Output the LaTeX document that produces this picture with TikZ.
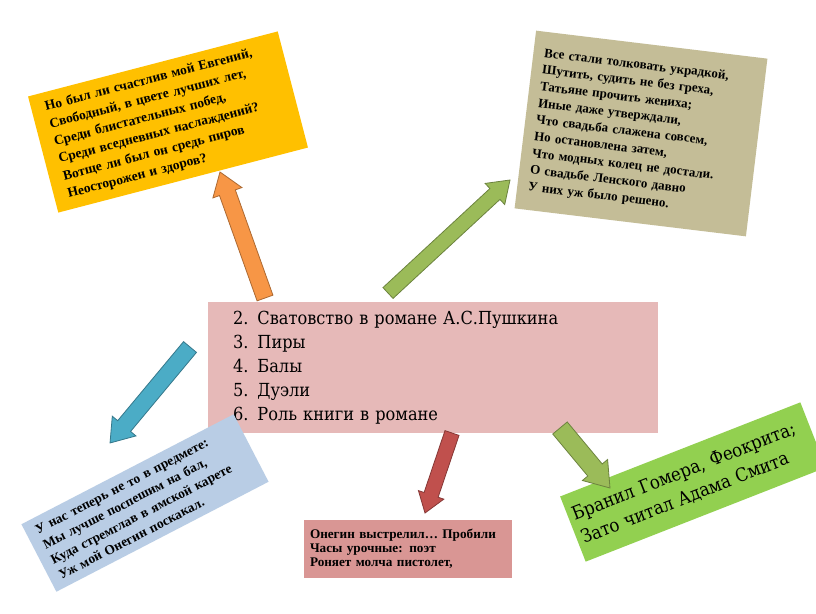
\documentclass[tikz,border=0pt]{standalone}
\usepackage{fontspec}
\setmainfont{Liberation Serif}
\newfontfamily\plainserif{DejaVu Serif Condensed}
\usetikzlibrary{shapes.arrows, calc}

\definecolor{gold}{HTML}{FFC000}
\definecolor{khaki}{HTML}{C4BD97}
\definecolor{rosy}{HTML}{E6B9B8}
\definecolor{skyblue}{HTML}{B9CDE5}
\definecolor{duelred}{HTML}{D99694}
\definecolor{grass}{HTML}{92D050}
\definecolor{arrorange}{HTML}{F79646}
\definecolor{arrgreen}{HTML}{9BBB59}
\definecolor{arrblue}{HTML}{4BACC6}
\definecolor{arrred}{HTML}{C0504D}

\begin{document}
\begin{tikzpicture}[x=1pt, y=-1pt,
      verse/.style={rectangle, align=left, inner ysep=0pt, font=\bfseries\fontsize{13}{16.8}\selectfont},
      blockarrow/.style={single arrow, inner xsep=0pt, outer sep=0pt, line width=0.8pt,
        single arrow tip angle=70, single arrow head indent=0pt,
        sloped, allow upside down, pos=0, anchor=tail}]

      \useasboundingbox (0,0) rectangle (816,613);
      \fill[white] (0,0) rectangle (816,613);

      % Central list
      \node[fill=rosy, minimum height=131pt, text width=400pt, inner xsep=25pt, align=left,
        font=\plainserif\fontsize{18}{24}\selectfont] (topics) at (433,367.5)
        {2. Сватовство в романе А.С.Пушкина\\3. Пиры\\4. Балы\\5. Дуэли\\6. Роль книги в романе};

      % Quotations
      \node[verse, fill=gold, rotate=14.6, minimum height=120pt, text width=230pt, inner xsep=14pt,
        font=\bfseries\fontsize{13.5}{18}\selectfont] (feasts) at (168,122)
        {Но был ли счастлив мой Евгений,\\Свободный, в цвете лучших лет,\\Среди блистательных побед,\\Среди вседневных наслаждений?\\Вотще ли был он средь пиров\\Неосторожен и здоров?};
      \node[verse, fill=khaki, rotate=-6.9, minimum height=179pt, text width=211pt, inner xsep=11pt] (matchmaking) at (641,133.5)
        {Все стали толковать украдкой,\\Шутить, судить не без греха,\\Татьяне прочить жениха;\\Иные даже утверждали,\\Что свадьба слажена совсем,\\Но остановлена затем,\\Что модных колец не достали.\\О свадьбе Ленского давно\\У них уж было решено.};
      \node[verse, fill=skyblue, rotate=27.4, minimum height=76pt, text width=219pt, inner xsep=10pt,
        font=\bfseries\fontsize{13.5}{17}\selectfont] (balls) at (145,503)
        {У нас теперь не то в предмете:\\Мы лучше поспешим на бал,\\Куда стремглав в ямской карете\\Уж мой Онегин поскакал.};
      \node[verse, fill=duelred, minimum height=58pt, text width=196pt, inner xsep=6pt,
        font=\bfseries\fontsize{13.2}{14}\selectfont] (duels) at (408,549)
        {Онегин выстрелил… Пробили\\Часы урочные: поэт\\Роняет молча пистолет,};
      \node[fill=grass, rotate=21.4, minimum height=70pt, text width=248pt, inner xsep=5pt, align=left,
        font=\plainserif\fontsize{18.5}{25}\selectfont] (books) at (693,482)
        {Бранил Гомера, Феокрита;\\Зато читал Адама Смита};

      % Arrow ends
      \coordinate (t1) at (265,298); \coordinate (h1) at (220,172);
      \coordinate (t2) at (388,293); \coordinate (h2) at (510,180);
      \coordinate (t3) at (190,347); \coordinate (h3) at (110,443);
      \coordinate (t4) at (452,433); \coordinate (h4) at (425,513);
      \coordinate (t5) at (560,428); \coordinate (h5) at (610,488);

      % Block arrows
      \foreach \tail/\tip/\shade/\half/\ext in {t1/h1/arrorange/8pt/7pt, t2/h2/arrgreen/7pt/7pt,
          t3/h3/arrblue/8pt/7pt, t4/h4/arrred/7pt/6pt, t5/h5/arrgreen/9pt/7pt}
        \path let \p1=($(\tip)-(\tail)$), \n1={veclen(\x1,\y1)} in (\tail) -- (\tip)
          node[blockarrow, fill=\shade, draw=\shade!70!black, inner ysep=\half,
            single arrow head extend=\ext, minimum height=\n1] {};
    \end{tikzpicture}
\end{document}
